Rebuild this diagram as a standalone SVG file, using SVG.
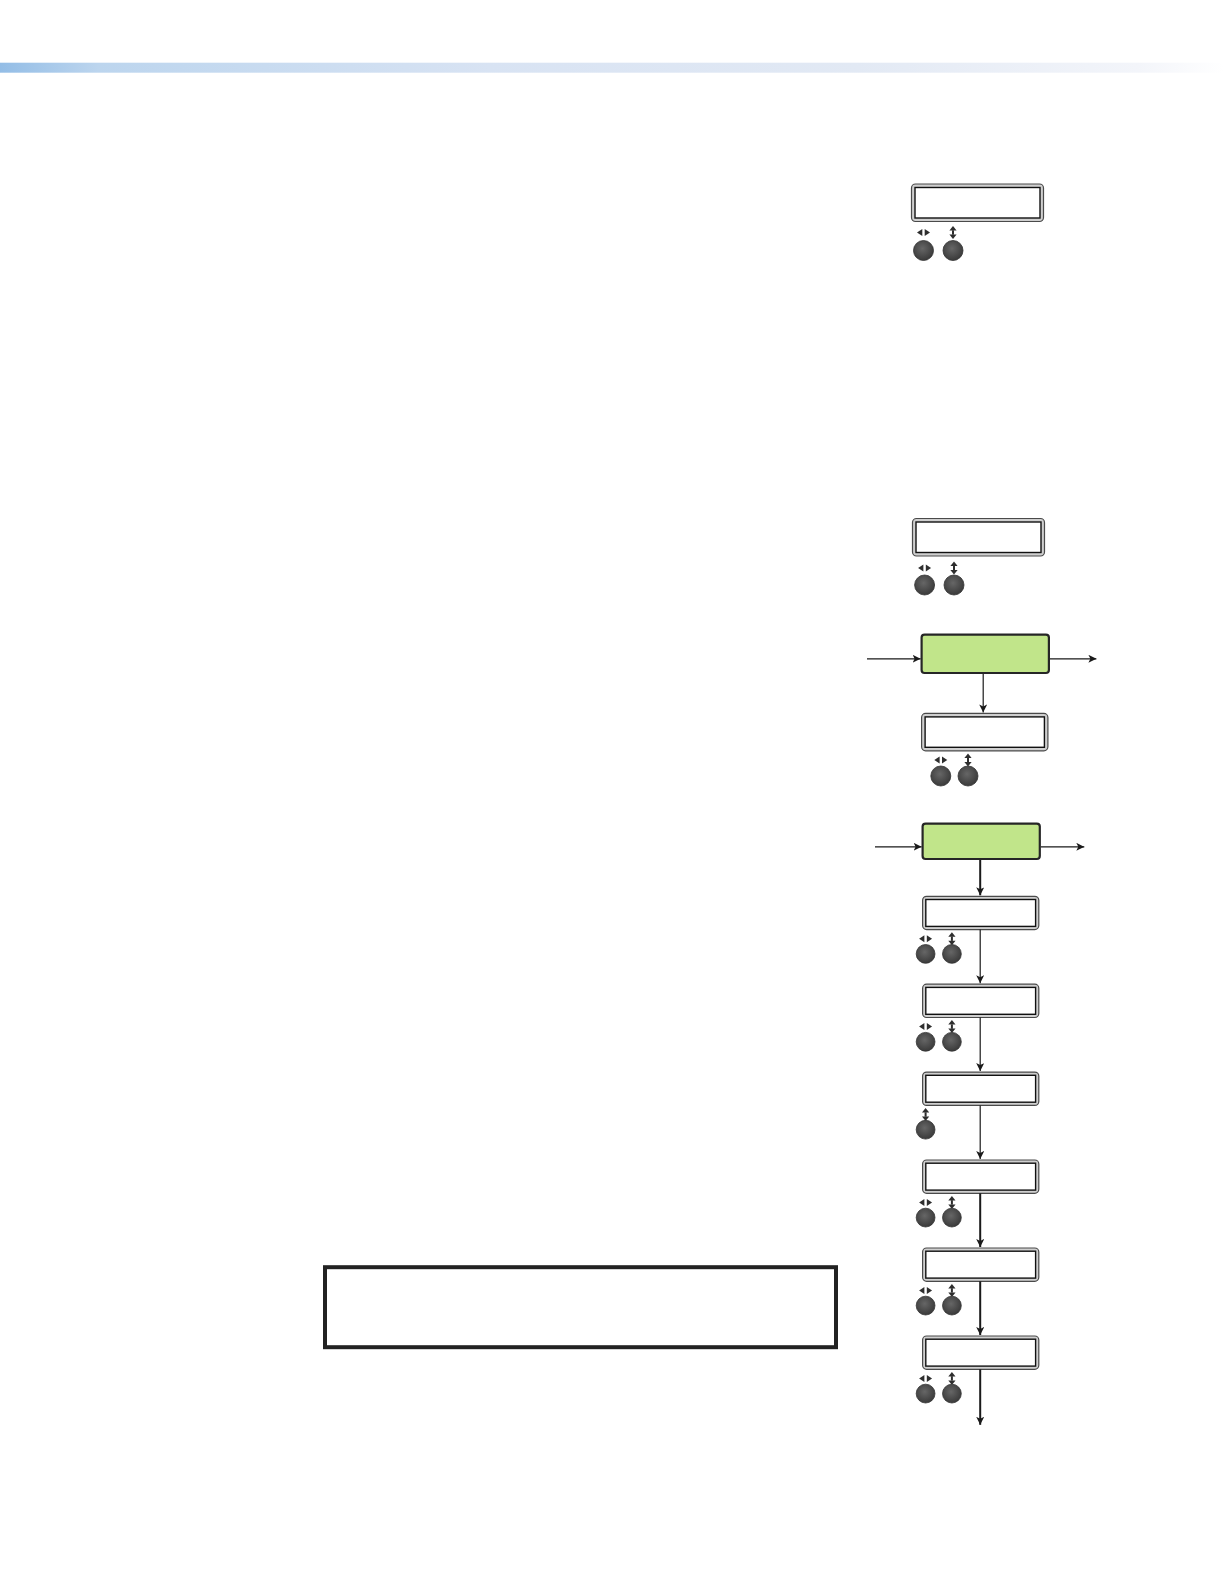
<svg xmlns="http://www.w3.org/2000/svg" width="1224" height="1584" viewBox="0 0 1224 1584">
<style>
.lcdo{fill:#cfcfcf;stroke:#4a4a4a;stroke-width:1.2}
.lcdi{fill:#ffffff;stroke:#111111;stroke-width:1.4}
.grn{fill:#c1e58a;stroke:#262626;stroke-width:2.2}
.btn{fill:url(#bg);stroke:#333;stroke-width:0.8}
.gl{fill:#2e2e2e}
.ln{stroke:#1a1a1a;stroke-width:1.2;fill:none}
.lnb{stroke:#1a1a1a;stroke-width:2;fill:none}
</style>
<defs>
<linearGradient id="bar" x1="0" y1="0" x2="1" y2="0">
<stop offset="0" stop-color="#93bde6"/>
<stop offset="0.08" stop-color="#bcd5ee"/>
<stop offset="0.4" stop-color="#d8e3f3"/>
<stop offset="0.7" stop-color="#e2e9f4"/>
<stop offset="0.93" stop-color="#f3f5fa"/>
<stop offset="1" stop-color="#ffffff"/>
</linearGradient>
<radialGradient id="bg" cx="0.45" cy="0.4" r="0.6">
<stop offset="0" stop-color="#666666"/>
<stop offset="1" stop-color="#3a3a3a"/>
</radialGradient>
<marker id="ah" viewBox="0 0 10 10" refX="10" refY="5" markerWidth="8" markerHeight="8" markerUnits="userSpaceOnUse" orient="auto">
<path d="M0,0 L10,5 L0,10 L2.5,5 z" fill="#1a1a1a"/>
</marker>
<g id="lr"><polygon points="-6.5,0 -1.2,-3.5 -1.2,3.5" class="gl"/><polygon points="6.5,0 1.2,-3.5 1.2,3.5" class="gl"/></g>
<g id="ud"><polygon points="0,-6.5 -3.6,-2 3.6,-2" class="gl"/><rect x="-1" y="-2.2" width="2" height="4.4" class="gl"/><polygon points="0,6.5 -3.6,2 3.6,2" class="gl"/></g>
</defs>

<rect x="0" y="62.7" width="1224" height="10" fill="url(#bar)"/>

<g id="lcd1">
<rect x="911.5" y="184" width="132" height="37.5" rx="4" class="lcdo"/>
<rect x="915" y="187.5" width="125" height="30.5" class="lcdi"/>
<use href="#lr" x="923.5" y="232.5"/><use href="#ud" x="953" y="232.5"/>
<circle cx="923.5" cy="250.5" r="10" class="btn"/><circle cx="953" cy="250.5" r="10" class="btn"/>
</g>

<g id="lcd2">
<rect x="912.5" y="518.5" width="132" height="37.5" rx="4" class="lcdo"/>
<rect x="916" y="522" width="125" height="30.5" class="lcdi"/>
<use href="#lr" x="924.6" y="568"/><use href="#ud" x="954" y="568"/>
<circle cx="924.6" cy="585" r="10" class="btn"/><circle cx="954" cy="585" r="10" class="btn"/>
</g>

<g id="menu1">
<rect x="921.6" y="634.6" width="127.3" height="38.4" rx="3" class="grn"/>
</g>

<g id="lcd3">
<rect x="921.6" y="713.4" width="126.3" height="37.4" rx="4" class="lcdo"/>
<rect x="925.1" y="716.9" width="119.3" height="30.4" class="lcdi"/>
<use href="#lr" x="940.8" y="760"/><use href="#ud" x="968" y="760"/>
<circle cx="940.8" cy="776" r="10" class="btn"/><circle cx="968" cy="776" r="10" class="btn"/>
</g>

<g id="menu2">
<rect x="922.6" y="823.6" width="117.2" height="35.4" rx="3" class="grn"/>
</g>

<g id="lcd4">
<rect x="922.6" y="896.3" width="116.2" height="33.3" rx="4" class="lcdo"/>
<rect x="925.8" y="899.5" width="109.8" height="26.9" class="lcdi"/>
<use href="#lr" x="925.6" y="938.7"/><use href="#ud" x="951.9" y="938.7"/>
<circle cx="925.6" cy="953.9" r="9.4" class="btn"/><circle cx="951.9" cy="953.9" r="9.4" class="btn"/>
</g>

<g id="lcd5">
<rect x="922.6" y="984.2" width="116.2" height="33.3" rx="4" class="lcdo"/>
<rect x="925.8" y="987.4" width="109.8" height="26.9" class="lcdi"/>
<use href="#lr" x="925.6" y="1026.6"/><use href="#ud" x="951.9" y="1026.6"/>
<circle cx="925.6" cy="1041.8" r="9.4" class="btn"/><circle cx="951.9" cy="1041.8" r="9.4" class="btn"/>
</g>

<g id="lcd6">
<rect x="922.6" y="1072.1" width="116.2" height="33.3" rx="4" class="lcdo"/>
<rect x="925.8" y="1075.3" width="109.8" height="26.9" class="lcdi"/>
<use href="#ud" x="925.6" y="1114.5"/>
<circle cx="925.6" cy="1129.7" r="9.4" class="btn"/>
</g>

<g id="lcd7">
<rect x="922.6" y="1160" width="116.2" height="33.3" rx="4" class="lcdo"/>
<rect x="925.8" y="1163.2" width="109.8" height="26.9" class="lcdi"/>
<use href="#lr" x="925.6" y="1202.4"/><use href="#ud" x="951.9" y="1202.4"/>
<circle cx="925.6" cy="1217.6" r="9.4" class="btn"/><circle cx="951.9" cy="1217.6" r="9.4" class="btn"/>
</g>

<g id="lcd8">
<rect x="922.6" y="1248" width="116.2" height="33.3" rx="4" class="lcdo"/>
<rect x="925.8" y="1251.2" width="109.8" height="26.9" class="lcdi"/>
<use href="#lr" x="925.6" y="1290.4"/><use href="#ud" x="951.9" y="1290.4"/>
<circle cx="925.6" cy="1305.6" r="9.4" class="btn"/><circle cx="951.9" cy="1305.6" r="9.4" class="btn"/>
</g>

<g id="lcd9">
<rect x="922.6" y="1336" width="116.2" height="33.3" rx="4" class="lcdo"/>
<rect x="925.8" y="1339.2" width="109.8" height="26.9" class="lcdi"/>
<use href="#lr" x="925.6" y="1378.4"/><use href="#ud" x="951.9" y="1378.4"/>
<circle cx="925.6" cy="1393.6" r="9.4" class="btn"/><circle cx="951.9" cy="1393.6" r="9.4" class="btn"/>
</g>

<g id="notebox">
<rect x="325" y="1267.2" width="511" height="80" fill="#ffffff" stroke="#222222" stroke-width="4"/>
</g>

<g id="connectors">
<line x1="867" y1="658.8" x2="920.6" y2="658.8" class="ln" marker-end="url(#ah)"/>
<line x1="1050" y1="658.8" x2="1096.4" y2="658.8" class="ln" marker-end="url(#ah)"/>
<line x1="983.2" y1="674" x2="983.2" y2="712.4" class="ln" marker-end="url(#ah)"/>
<line x1="875" y1="846.8" x2="921.6" y2="846.8" class="ln" marker-end="url(#ah)"/>
<line x1="1040.8" y1="846.8" x2="1084.3" y2="846.8" class="ln" marker-end="url(#ah)"/>
<line x1="980.2" y1="860" x2="980.2" y2="895.3" class="lnb" marker-end="url(#ah)"/>
<line x1="980.2" y1="929.6" x2="980.2" y2="983.2" class="ln" marker-end="url(#ah)"/>
<line x1="980.2" y1="1017.5" x2="980.2" y2="1071.1" class="ln" marker-end="url(#ah)"/>
<line x1="980.2" y1="1105.4" x2="980.2" y2="1159" class="ln" marker-end="url(#ah)"/>
<line x1="980.2" y1="1193.3" x2="980.2" y2="1247" class="lnb" marker-end="url(#ah)"/>
<line x1="980.2" y1="1281.3" x2="980.2" y2="1335" class="lnb" marker-end="url(#ah)"/>
<line x1="980.2" y1="1369.3" x2="980.2" y2="1424.8" class="lnb" marker-end="url(#ah)"/>
</g>
</svg>
